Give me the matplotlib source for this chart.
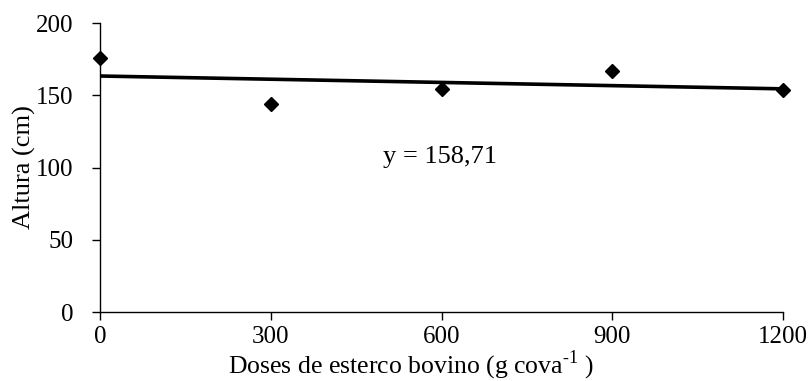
import numpy as np
from matplotlib import pyplot as plt

plt.rcParams['font.family'] = ['Liberation Serif', 'DejaVu Serif']
plt.rcParams['mathtext.fontset'] = 'custom'
plt.rcParams['mathtext.rm'] = 'Liberation Serif'

# Doses (g cova-1) and plant height (cm)
doses = [0, 300, 600, 900, 1200]
altura = [175.8, 144.0, 154.5, 166.8, 153.3]
x_ticks = [0, 300, 600, 900, 1200]
y_ticks = [0, 50, 100, 150, 200]

fig = plt.figure(figsize=(8.09, 3.81), dpi=100)
ax = fig.add_axes([0.1236, 0.1811, 0.8443, 0.7585])

# linear trendline through the points
coef = np.polyfit(doses, altura, 1)
xs = np.array([min(doses), max(doses)])
ax.plot(xs, np.polyval(coef, xs), color='black', lw=2.6, zorder=2)
ax.plot(doses, altura, 'D', color='black', markersize=7.5, zorder=3, clip_on=False)

ax.text(497, 107, 'y = 158,71', fontsize=19, ha='left', va='center')

ax.set_xlim(0, 1200)
ax.set_ylim(0, 200)
ax.set_xticks(x_ticks)
ax.set_yticks(y_ticks)
ax.tick_params(direction='out', length=6, width=1, labelsize=18)
ax.tick_params(axis='y', pad=13)
ax.tick_params(axis='x', pad=4)
for s in ['top', 'right']:
    ax.spines[s].set_visible(False)
for s in ['left', 'bottom']:
    ax.spines[s].set_linewidth(1)

ax.set_xlabel('Doses de esterco bovino (g cova$^{\\mathregular{\u20101}}$ )', fontsize=18.5)
ax.xaxis.set_label_coords(0.455, -0.127)
ax.set_ylabel('Altura (cm)', fontsize=19)
ax.yaxis.set_label_coords(-0.093, 0.5)

plt.savefig('out.png', dpi=100)
